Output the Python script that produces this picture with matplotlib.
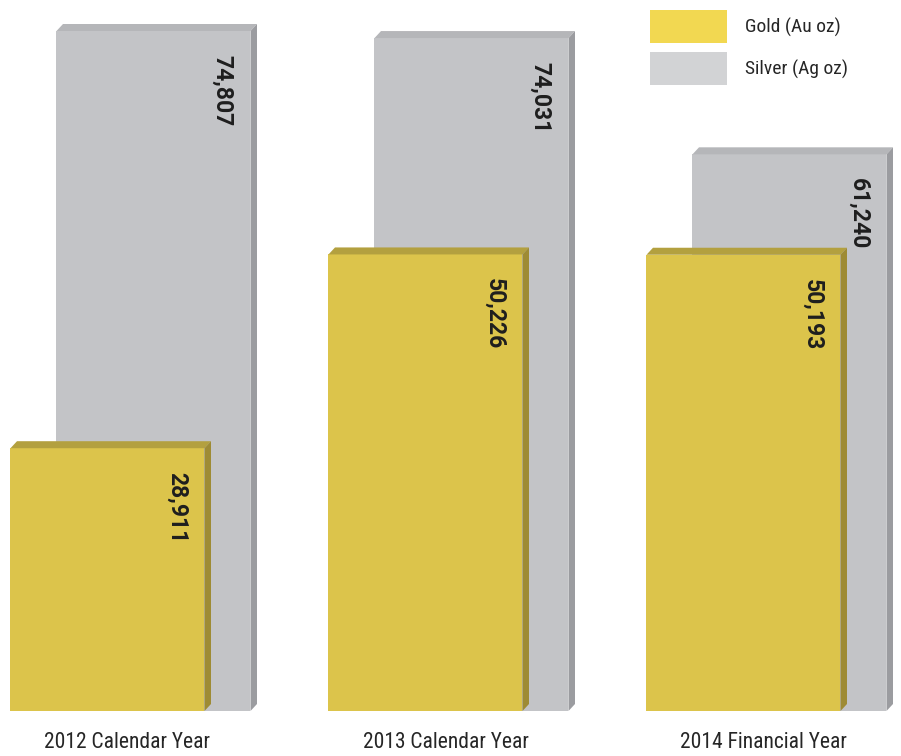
"""Gold and silver production by year, drawn as pseudo-3D bars."""
import matplotlib
matplotlib.use("Agg")
import matplotlib.pyplot as plt
from matplotlib.patches import Polygon, Rectangle
import numpy as np

categories = ["2012 Calendar Year", "2013 Calendar Year", "2014 Financial Year"]
gold_oz = [28911, 50226, 50193]
silver_oz = [74807, 74031, 61240]
series_names = ["Gold (Au oz)", "Silver (Ag oz)"]

W, H = 901, 756
PX_PER_UNIT = 318.0          # horizontal pixels per category step
PX_PER_OZ = 680.0 / 74807    # vertical pixels per ounce
BASE_PX = 711                # pixel row of y = 0

GOLD = dict(front="#dcc44b", top="#b3a03f", side="#9e8b34")
SILVER = dict(front="#c3c4c7", top="#b5b6b9", side="#9b9ca0")
NARROW = ["Roboto Condensed", "DejaVu Sans"]
BOLD = ["Roboto", "DejaVu Sans"]


def add_depth(ax, patch, col, dx, dy, z):
    x0, y0 = patch.get_x(), patch.get_y()
    x1, y1 = x0 + patch.get_width(), y0 + patch.get_height()
    top = [(x0, y1), (x1, y1), (x1 + dx, y1 + dy), (x0 + dx, y1 + dy)]
    side = [(x1, y0), (x1 + dx, y0 + dy), (x1 + dx, y1 + dy), (x1, y1)]
    ax.add_patch(Polygon(top, closed=True, facecolor=col["top"], edgecolor="none", zorder=z))
    ax.add_patch(Polygon(side, closed=True, facecolor=col["side"], edgecolor="none", zorder=z))


def main():
    fig = plt.figure(figsize=(W / 100, H / 100), dpi=100, facecolor="white")
    ax = fig.add_axes([0, 0, 1, 1])
    ax.set_xlim(-107.5 / PX_PER_UNIT, (W - 107.5) / PX_PER_UNIT)
    ax.set_ylim(-(H - BASE_PX) / PX_PER_OZ, BASE_PX / PX_PER_OZ)
    ax.axis("off")

    x = np.arange(len(categories))
    w = 194 / PX_PER_UNIT
    shift = 46 / PX_PER_UNIT
    dx, dy = 6.5 / PX_PER_UNIT, 7 / PX_PER_OZ

    sb = ax.bar(x + shift, silver_oz, width=w, color=SILVER["front"], zorder=1)
    for p in sb:
        add_depth(ax, p, SILVER, dx, dy, 1)
    gb = ax.bar(x, gold_oz, width=w, color=GOLD["front"], zorder=3)
    for p in gb:
        add_depth(ax, p, GOLD, dx, dy, 3)

    lab_dx = 28 / PX_PER_UNIT
    lab_dy = 24 / PX_PER_OZ
    for bars, vals, z in ((sb, silver_oz, 2), (gb, gold_oz, 4)):
        for p, v in zip(bars, vals):
            ax.text(p.get_x() + p.get_width() - lab_dx, v - lab_dy, f"{v:,}",
                    rotation=-90, ha="center", va="top", fontsize=16.5,
                    fontweight="bold", family=BOLD, color="#1e1e1e", zorder=z)

    for xi, name in zip(x, categories):
        ax.text(xi + 20 / PX_PER_UNIT, -(742 - BASE_PX) / PX_PER_OZ, name,
                ha="center", va="center", fontsize=15.5, family=NARROW,
                color="#262626")

    # legend
    for i, (name, col) in enumerate(zip(series_names, ["#f2d851", "#d2d3d5"])):
        y_top = 10 + i * 42
        fig.add_artist(Rectangle((650 / W, 1 - (y_top + 33) / H), 77 / W, 33 / H,
                                 transform=fig.transFigure, facecolor=col,
                                 edgecolor="none"))
        fig.text(745 / W, 1 - (y_top + 17) / H, name, ha="left", va="center",
                 fontsize=14, family=NARROW, color="#262626")

    fig.savefig("out.png", dpi=100, facecolor="white")
    plt.close(fig)


if __name__ == "__main__":
    main()
